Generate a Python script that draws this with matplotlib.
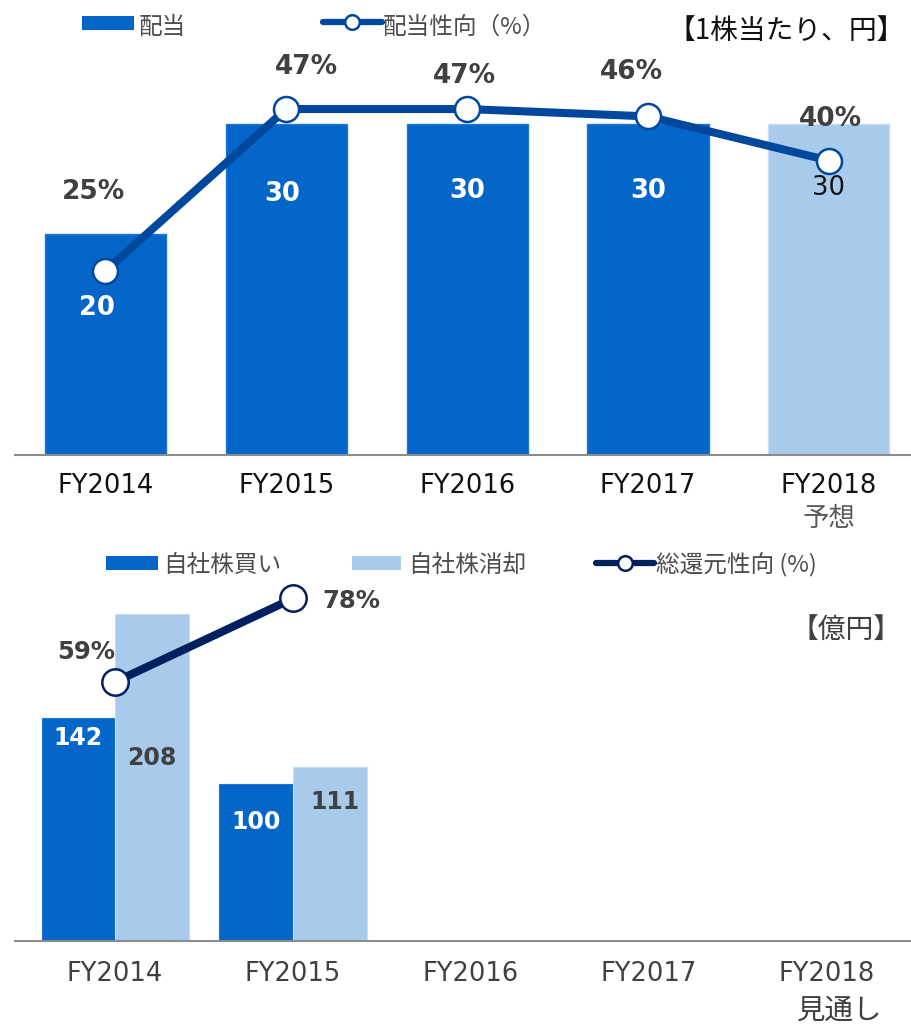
import matplotlib
matplotlib.use("Agg")
import matplotlib.pyplot as plt
from matplotlib.patches import Rectangle
from matplotlib.lines import Line2D

# ---- data ----
fiscal_years = ["FY2014", "FY2015", "FY2016", "FY2017", "FY2018"]
dividend_per_share = [20, 30, 30, 30, 30]          # 円
dividend_is_forecast = [False, False, False, False, True]
payout_ratio = [25, 47, 47, 46, 40]                # %

buyback = [142, 100]                                # 億円 (FY2014, FY2015)
cancellation = [208, 111]                           # 億円
total_return_ratio = [59, 78]                       # %

# ---- styling ----
DARK = "#0466C8"
LIGHT = "#A8CAEB"
LINE_TOP = "#00479D"
LINE_BOTTOM = "#002060"
LABEL_GRAY = "#404040"
LEGEND_GRAY = "#4D4D4D"
JP = ["Noto Sans CJK JP", "DejaVu Sans"]
LATIN = ["DejaVu Sans", "Noto Sans CJK JP"]

plt.rcParams["font.family"] = LATIN

W, H = 912, 1028
fig = plt.figure(figsize=(W / 100, H / 100), dpi=100)


def fig_rect(left, top, right, bottom):
    return [left / W, 1 - bottom / H, (right - left) / W, (bottom - top) / H]


def fxy(px, py):
    return px / W, 1 - py / H


def legend_patch(x0, x1, yc, h, color, label, text_x, text_dy=4):
    fig.add_artist(Rectangle(fxy(x0, yc + h / 2), (x1 - x0) / W, h / H,
                             transform=fig.transFigure, color=color, lw=0))
    fig.text(*fxy(text_x, yc + text_dy), label, family=JP, fontsize=17,
             color=LEGEND_GRAY, ha="left", va="center")


def legend_line(x0, x1, yc, color, label, text_x, text_dy=4):
    xs = [x0 / W, x1 / W]
    ys = [1 - yc / H] * 2
    fig.add_artist(Line2D(xs, ys, transform=fig.transFigure, color=color,
                          lw=4.5, solid_capstyle="round"))
    fig.add_artist(Line2D([(x0 + x1) / 2 / W], [1 - yc / H],
                          transform=fig.transFigure, marker="o", ms=10.5,
                          mfc="white", mec=color, mew=1.8, lw=0))
    fig.text(*fxy(text_x, yc + text_dy), label, family=JP, fontsize=17,
             color=LEGEND_GRAY, ha="left", va="center")


def clean_axes(ax):
    for side in ("top", "left", "right"):
        ax.spines[side].set_visible(False)
    ax.spines["bottom"].set_color("#8C8C8C")
    ax.spines["bottom"].set_linewidth(1.5)
    ax.set_yticks([])
    ax.patch.set_alpha(0)


# =================== upper panel: dividends ===================
ax1 = fig.add_axes(fig_rect(15, 45, 912, 455))
x = list(range(len(fiscal_years)))
bar_colors = [LIGHT if f else DARK for f in dividend_is_forecast]
bar_edges = ["#C6DDF4" if f else "#1F78D1" for f in dividend_is_forecast]
ax1.bar(x, dividend_per_share, width=0.67, color=bar_colors,
        edgecolor=bar_edges, linewidth=1.0)
ax1.set_xlim(-0.5, 4.46)
ax1.set_ylim(0, 37.17)
clean_axes(ax1)
ax1.set_xticks(x, fiscal_years)
ax1.tick_params(axis="x", length=0, pad=13, labelsize=18.5, labelcolor="#111111")
ax1.text(4, -0.155, "予想", transform=ax1.get_xaxis_transform(), ha="center",
         va="center", family=JP, fontsize=19, color="#595959")

# bar value labels (offsets in pixels from bar top)
bar_label_dx = [-8, -4, 0, 0, 0]
bar_label_dy = [-74, -70, -67, -67, -64]
for i, v in enumerate(dividend_per_share):
    forecast = dividend_is_forecast[i]
    ax1.annotate(f"{v}", xy=(i, v), xytext=(bar_label_dx[i], bar_label_dy[i]),
                 textcoords="offset pixels", ha="center", va="center",
                 fontsize=18.5,
                 fontweight="normal" if forecast else "bold",
                 color="#111111" if forecast else "white")

ax1b = ax1.twinx()
ax1b.plot(x, payout_ratio, color=LINE_TOP, lw=5.8, marker="o", ms=18,
          mfc="white", mec=LINE_TOP, mew=1.8, solid_capstyle="round",
          clip_on=False, zorder=3)
ax1b.set_ylim(0, 55.7)
for side in ("top", "left", "right", "bottom"):
    ax1b.spines[side].set_visible(False)
ax1b.set_yticks([])

pct_label_dx = [-12, 20, -3, -17, 2]
pct_label_dy = [79, 42, 33, 44, 42]
for i, v in enumerate(payout_ratio):
    ax1b.annotate(f"{v}%", xy=(i, v), xytext=(pct_label_dx[i], pct_label_dy[i]),
                  textcoords="offset pixels", ha="center", va="center",
                  fontsize=19, fontweight="bold", color=LABEL_GRAY)

# legend + unit
legend_patch(82, 134, 23, 14, DARK, "配当", 139)
legend_line(323, 382, 22, LINE_TOP, "配当性向（%）", 383, text_dy=5)
fig.text(*fxy(786, 31), "【1株当たり、円】", family=JP, fontsize=20,
         color="#111111", ha="center", va="center")

# =================== lower panel: share buybacks ===================
ax2 = fig.add_axes(fig_rect(15, 591, 912, 941))
bw = 0.413
xb = list(range(len(buyback)))
ax2.bar([i - bw / 2 for i in xb], buyback, width=bw, color=DARK,
        edgecolor="#1F78D1", linewidth=0.8)
ax2.bar([i + bw / 2 for i in xb], cancellation, width=bw, color=LIGHT,
        edgecolor="#C6DDF4", linewidth=0.8)
ax2.set_xlim(-0.562, 4.478)
ax2.set_ylim(0, 222.9)
clean_axes(ax2)
ax2.set_xticks(x, fiscal_years)
ax2.tick_params(axis="x", length=0, pad=14.5, labelsize=18.5, labelcolor=LABEL_GRAY)
ax2.text(4.07, -0.20, "見通し", transform=ax2.get_xaxis_transform(),
         ha="center", va="center", family=JP, fontsize=20.5, color=LABEL_GRAY)

buyback_dx, buyback_dy = [0, 0], [-20, -38]
cancel_dx, cancel_dy = [0, 5], [-144, -35]
for i, v in enumerate(buyback):
    ax2.annotate(f"{v}", xy=(i - bw / 2, v), xytext=(buyback_dx[i], buyback_dy[i]),
                 textcoords="offset pixels", ha="center", va="center",
                 fontsize=17, fontweight="bold", color="white")
for i, v in enumerate(cancellation):
    ax2.annotate(f"{v}", xy=(i + bw / 2, v), xytext=(cancel_dx[i], cancel_dy[i]),
                 textcoords="offset pixels", ha="center", va="center",
                 fontsize=17, fontweight="bold", color=LABEL_GRAY)

ax2b = ax2.twinx()
ax2b.plot(xb, total_return_ratio, color=LINE_BOTTOM, lw=5.8, marker="o",
          ms=19, mfc="white", mec=LINE_BOTTOM, mew=1.8, clip_on=False,
          solid_capstyle="round", zorder=3)
ax2b.set_ylim(0, 79.7)
for side in ("top", "left", "right", "bottom"):
    ax2b.spines[side].set_visible(False)
ax2b.set_yticks([])

trr_dx, trr_dy = [-29, 58], [30, -3]
for i, v in enumerate(total_return_ratio):
    ax2b.annotate(f"{v}%", xy=(i, v), xytext=(trr_dx[i], trr_dy[i]),
                  textcoords="offset pixels", ha="center", va="center",
                  fontsize=17.5, fontweight="bold", color=LABEL_GRAY)

legend_patch(106, 158, 563, 14, DARK, "自社株買い", 163, text_dy=2)
legend_patch(352, 401, 563, 14, LIGHT, "自社株消却", 408, text_dy=2)
legend_line(596, 654, 563, LINE_BOTTOM, "総還元性向 (%)", 656, text_dy=2)
fig.text(*fxy(846, 630), "【億円】", family=JP, fontsize=20,
         color=LABEL_GRAY, ha="center", va="center")

fig.savefig("out.png", dpi=100, facecolor="white")
